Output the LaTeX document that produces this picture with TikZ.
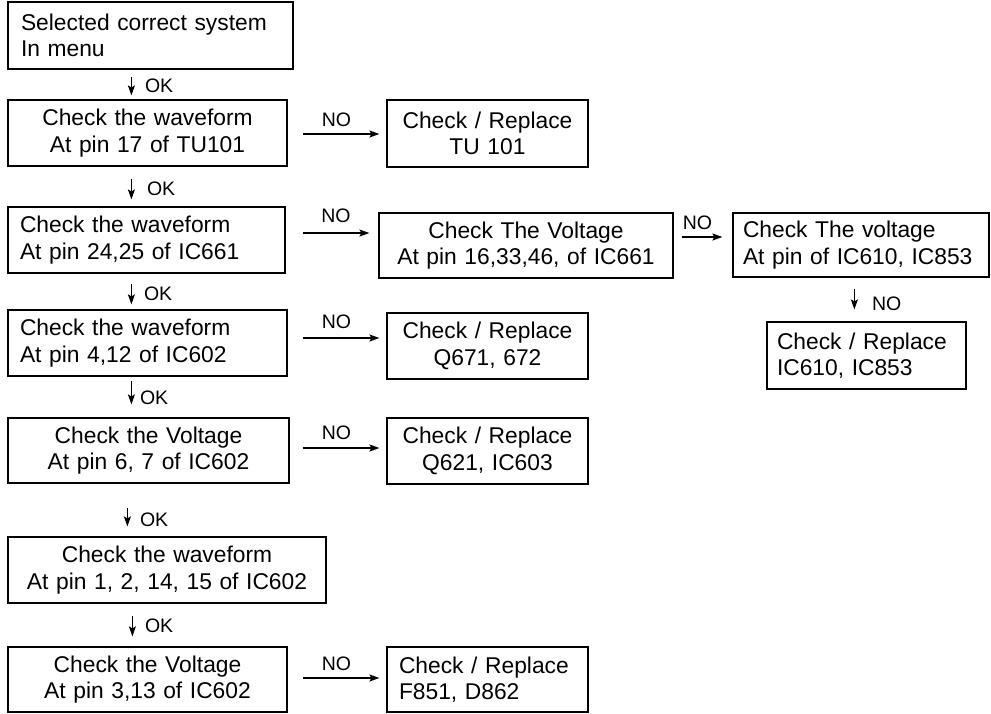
\documentclass[tikz,border=0pt]{standalone}
\usepackage{fontspec}
\setmainfont{Liberation Sans}
\usetikzlibrary{arrows.meta}
\begin{document}
\begin{tikzpicture}[x=1pt,y=-1pt,
 bx/.style={draw, line width=1.2pt, inner ysep=0pt, font=\fontsize{22.8pt}{26.5pt}\selectfont},
 arr/.style={line width=1.2pt, -{Stealth[length=10pt,width=7pt,inset=2pt]}},
 lbl/.style={inner sep=0pt, font=\fontsize{19.5pt}{22pt}\selectfont}]
\useasboundingbox (0,0) rectangle (991,713);
% left column
\node[bx, text width=259pt, inner xsep=13pt, minimum height=67pt, align=left] (b1) at (150.5,35.5) {Selected correct system\\In menu};
\node[bx, text width=255pt, inner xsep=12pt, minimum height=66pt, align=center] (b2) at (147.5,133) {Check the waveform\\At pin 17 of TU101};
\node[bx, text width=253pt, inner xsep=12pt, minimum height=66pt, align=left] (b3) at (146.5,240) {Check the waveform\\At pin 24,25 of IC661};
\node[bx, text width=255pt, inner xsep=12pt, minimum height=66pt, align=left] (b4) at (147.5,343) {Check the waveform\\At pin 4,12 of IC602};
\node[bx, text width=257pt, inner xsep=12pt, minimum height=65pt, align=center] (b5) at (148.5,450.5) {Check the Voltage\\At pin 6, 7 of IC602};
\node[bx, text width=294pt, inner xsep=12pt, minimum height=66pt, align=center] (b6) at (167,570) {Check the waveform\\At pin 1, 2, 14, 15 of IC602};
\node[bx, text width=255pt, inner xsep=12pt, minimum height=65pt, align=center] (b7) at (147.5,679.5) {Check the Voltage\\At pin 3,13 of IC602};
% right boxes
\node[bx, text width=177pt, inner xsep=12pt, minimum height=67pt, align=center] (tu) at (487.5,133.5) {Check / Replace\\TU 101};
\node[bx, text width=270pt, inner xsep=12pt, minimum height=65pt, align=center] (cv) at (526,245.5) {Check The Voltage\\At pin 16,33,46, of IC661};
\node[bx, text width=236pt, inner xsep=10pt, minimum height=64pt, align=left] (vic) at (861,245) {Check The voltage\\At pin of IC610, IC853};
\node[bx, text width=179pt, inner xsep=10pt, minimum height=67pt, align=left] (ric) at (866.5,355.5) {Check / Replace\\IC610, IC853};
\node[bx, text width=177pt, inner xsep=12pt, minimum height=66pt, align=center] (q671) at (487.5,346) {Check / Replace\\Q671, 672};
\node[bx, text width=177pt, inner xsep=12pt, minimum height=66pt, align=center] (q621) at (487.5,451) {Check / Replace\\Q621, IC603};
\node[bx, text width=177pt, inner xsep=12pt, minimum height=65pt, align=left] (f851) at (487.5,679.5) {Check / Replace\\F851, D862};
% vertical OK arrows
\draw[arr] ([shift={(124,7)}]b1.south west) -- node[lbl,anchor=west,xshift=13pt]{OK} ([shift={(124,-4)}]b2.north west);
\draw[arr] ([shift={(124,12)}]b2.south west) -- node[lbl,anchor=west,xshift=15pt]{OK} ([shift={(124,-7)}]b3.north west);
\draw[arr] ([shift={(124,10)}]b3.south west) -- node[lbl,anchor=west,xshift=12pt]{OK} ([shift={(124,-5)}]b4.north west);
\draw[arr] ([shift={(124,4)}]b4.south west) -- node[lbl,anchor=west,xshift=8pt,yshift=-5.5pt]{OK} ([shift={(124,-13)}]b5.north west);
\draw[arr] ([shift={(120,24)}]b5.south west) -- node[lbl,anchor=west,xshift=12pt,yshift=-3pt]{OK} ([shift={(120,-10)}]b6.north west);
\draw[arr] ([shift={(125,12)}]b6.south west) -- node[lbl,anchor=west,xshift=12pt]{OK} ([shift={(125,-10)}]b7.north west);
\draw[arr] ([shift={(122,11)}]vic.south west) -- node[lbl,anchor=west,xshift=17pt,yshift=-5pt]{NO} ([shift={(88,-12)}]ric.north west);
% horizontal NO arrows
\draw[arr] ([shift={(15,1)}]b2.east) -- node[lbl,pos=0.44,above=7pt]{NO} ([shift={(-7,0.5)}]tu.west);
\draw[arr] ([shift={(17,-7)}]b3.east) -- node[lbl,pos=0.5,above=10pt]{NO} ([shift={(-9,-12.5)}]cv.west);
\draw[arr] ([shift={(8,-8.5)}]cv.east) -- node[lbl,pos=0.39,above=7pt]{NO} ([shift={(-10,-8)}]vic.west);
\draw[arr] ([shift={(15,-5)}]b4.east) -- node[lbl,pos=0.44,above=9pt]{NO} ([shift={(-7,-8)}]q671.west);
\draw[arr] ([shift={(13,-2.5)}]b5.east) -- node[lbl,pos=0.44,above=8pt]{NO} ([shift={(-7,-3)}]q621.west);
\draw[arr] ([shift={(15,-1.5)}]b7.east) -- node[lbl,pos=0.44,above=7pt]{NO} ([shift={(-7,-1.5)}]f851.west);
\end{tikzpicture}
\end{document}
